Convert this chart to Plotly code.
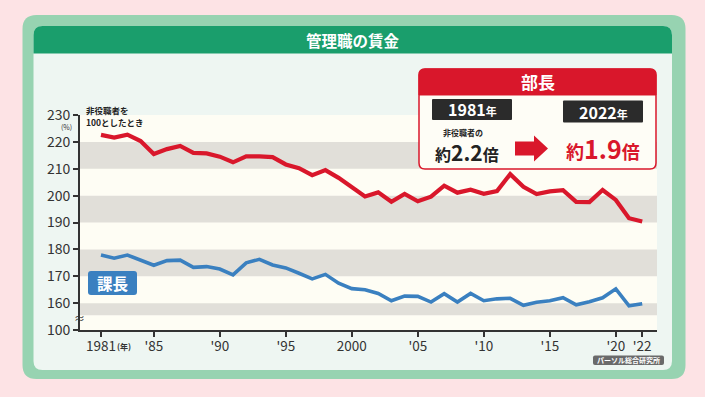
import plotly.graph_objects as go

W, H = 705, 397

years = list(range(1981, 2023))
bucho = [222.6, 221.6, 222.7, 220.3, 215.5, 217.3, 218.5, 215.9, 215.7, 214.5,
         212.4, 214.6, 214.6, 214.3, 211.6, 210.2, 207.6, 209.5, 206.6, 203.0,
         199.7, 201.2, 197.7, 200.6, 197.9, 199.6, 203.7, 201.1, 202.2, 200.7,
         201.7, 208.0, 203.3, 200.6, 201.6, 202.0, 197.7, 197.6, 202.1, 198.4,
         191.6, 190.4]
kacho = [177.9, 176.7, 177.9, 176.0, 174.1, 175.8, 176.0, 173.3, 173.6, 172.7,
         170.5, 175.0, 176.3, 174.2, 173.1, 171.1, 169.0, 170.7, 167.4, 165.4,
         165.0, 163.6, 160.9, 162.6, 162.5, 160.4, 163.5, 160.4, 163.6, 160.9,
         161.6, 161.8, 159.2, 160.3, 160.9, 162.0, 159.4, 160.5, 162.0, 165.3,
         159.0, 159.8]

x_tickvals = [1981, 1985, 1990, 1995, 2000, 2005, 2010, 2015, 2020, 2022]
x_ticktext = ["1981", "'85", "'90", "'95", "2000", "'05", "'10", "'15", "'20", "'22"]
y_tickvals = [150, 160, 170, 180, 190, 200, 210, 220, 230]
y_ticktext = ["100", "160", "170", "180", "190", "200", "210", "220", "230"]
bands = [(210, 220), (190, 200), (170, 180), (155.5, 160)]

FONT = "Noto Sans CJK JP"
RED = "#d9172b"
BLUE = "#3a80c0"


def P(x, y):
    return x / W, 1 - y / H


def rrect(x0, y0, x1, y1, r, corners=(1, 1, 1, 1)):
    tl, tr, br, bl = [r * c for c in corners]
    def f(x, y):
        a, b = P(x, y)
        return f"{a:.5f},{b:.5f}"
    s = f"M {f(x0 + tl, y0)} L {f(x1 - tr, y0)} "
    s += f"Q {f(x1, y0)} {f(x1, y0 + tr)} " if tr else ""
    s += f"L {f(x1, y1 - br)} "
    s += f"Q {f(x1, y1)} {f(x1 - br, y1)} " if br else ""
    s += f"L {f(x0 + bl, y1)} "
    s += f"Q {f(x0, y1)} {f(x0, y1 - bl)} " if bl else ""
    s += f"L {f(x0, y0 + tl)} "
    s += f"Q {f(x0, y0)} {f(x0 + tl, y0)} " if tl else ""
    return s + "Z"


def poly(points):
    return "M " + " L ".join("{:.5f},{:.5f}".format(*P(x, y)) for x, y in points) + " Z"


shapes = []
def add_path(path, fill, line_color=None, line_width=0, layer="below"):
    shapes.append(dict(type="path", xref="paper", yref="paper", path=path,
                       fillcolor=fill, layer=layer,
                       line=dict(color=line_color or fill, width=line_width)))

# frame
add_path(rrect(22.5, 15, 685.5, 379, 14), "#97d3b1")
add_path(rrect(33.5, 26, 672, 370, 9), "#eef6f2")
add_path(rrect(33.5, 26, 672, 53.5, 9, (1, 1, 0, 0)), "#1a9e6c")
# plot background
shapes.append(dict(type="rect", xref="x domain", yref="y domain", x0=0, x1=1, y0=0, y1=1,
                   fillcolor="#fefdf4", line=dict(width=0), layer="below"))
for lo, hi in bands:
    shapes.append(dict(type="rect", xref="x domain", yref="y", x0=0, x1=1, y0=lo, y1=hi,
                       fillcolor="#e1dfd9", line=dict(width=0), layer="below"))

# red callout box
add_path(rrect(419, 69, 656, 169, 6), "#fefdf6", RED, 1.5, layer="above")
add_path(rrect(419, 69, 656, 95, 6, (1, 1, 0, 0)), RED, RED, 1, layer="above")
add_path(rrect(432, 99, 512, 120, 1), "#2b2b2b", layer="above")
add_path(rrect(563, 100.5, 643, 122.5, 1), "#2b2b2b", layer="above")
add_path(poly([(515, 141.5), (534, 141.5), (534, 135.5), (548, 148.5), (534, 161.5), (534, 155.5), (515, 155.5)]),
         RED, layer="above")
# 課長 label
add_path(rrect(88, 271, 137, 295, 3), BLUE, layer="above")
# source label
add_path(rrect(593, 355.5, 664, 365, 2), "#6a6a6a", layer="above")

fig = go.Figure()
fig.add_trace(go.Scatter(x=years, y=kacho, mode="lines", line=dict(color=BLUE, width=3.6),
                         hoverinfo="skip", showlegend=False))
fig.add_trace(go.Scatter(x=years, y=bucho, mode="lines", line=dict(color=RED, width=4.2),
                         hoverinfo="skip", showlegend=False))

ann = []
def text(x, y, t, size, color="#222", bold=False, xanchor="center", yanchor="middle", **kw):
    if bold:
        t = f"<b>{t}</b>"
    xx, yy = P(x, y)
    ann.append(dict(xref="paper", yref="paper", x=xx, y=yy, text=t, showarrow=False,
                    xanchor=xanchor, yanchor=yanchor,
                    font=dict(family=FONT, size=size, color=color), **kw))

text(353, 40, "管理職の賃金", 15.5, "white", True)
text(537.5, 81.5, "部長", 17, "white", True)
text(472, 109.5, "1981<span style='font-size:11px'>年</span>", 16, "white", True)
text(603, 111.5, "2022<span style='font-size:11px'>年</span>", 16, "white", True)
text(463, 132, "非役職者の", 8, "#222", True)
text(467, 152, "<span style='font-size:16px'>約</span>2.2<span style='font-size:16px'>倍</span>",
     21, "#222", True)
text(603, 148, "<span style='font-size:18px'>約</span>1.9<span style='font-size:18px'>倍</span>",
     25, RED, True)
text(112.5, 283, "課長", 15.5, "white", True)
text(628.5, 360.2, "パーソル総合研究所", 7, "white", True)
text(84, 110.5, "非役職者を", 8.5, "#222", True, xanchor="left")
text(84, 122, "100としたとき", 8.5, "#222", True, xanchor="left")
text(66, 127.5, "(%)", 7, "#333", False)
text(124, 346.5, "(年)", 8, "#333", True)
text(79, 317.5, "≈", 11, "#333", False)

fig.update_layout(
    width=W, height=H,
    margin=dict(l=0, r=0, t=0, b=0, pad=0),
    paper_bgcolor="#fde3e5",
    plot_bgcolor="rgba(0,0,0,0)",
    shapes=shapes,
    annotations=ann,
    showlegend=False,
    xaxis=dict(domain=[80 / W, 657 / W], range=[1979.41, 2023.12], automargin=False,
               tickvals=x_tickvals, ticktext=x_ticktext,
               ticks="outside", ticklen=5, tickwidth=1.5, tickcolor="#333",
               ticklabelstandoff=-2,
               showline=True, linecolor="#333", linewidth=2, showgrid=False, zeroline=False,
               tickfont=dict(family=FONT, size=13.5, color="#333")),
    yaxis=dict(domain=[1 - 330 / H, 1 - 115 / H], range=[150, 230], automargin=False,
               tickvals=y_tickvals, ticktext=y_ticktext,
               ticks="outside", ticklen=5, tickwidth=1.5, tickcolor="#333",
               showline=True, linecolor="#333", linewidth=2, showgrid=False, zeroline=False,
               tickfont=dict(family=FONT, size=14, color="#333")),
)

fig.write_html("out.html", config={"displayModeBar": False},
               post_script="document.body.style.margin='0';document.body.style.background='#fde3e5';")
